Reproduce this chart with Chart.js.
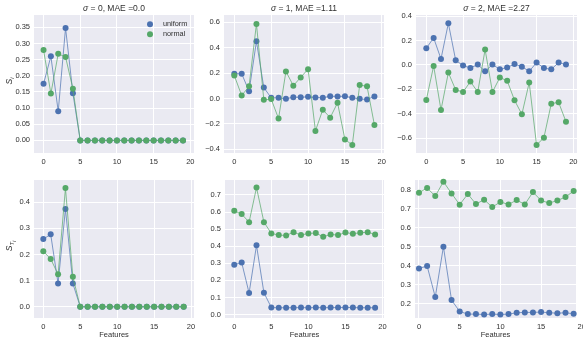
<!DOCTYPE html>
<html><head><meta charset="utf-8">
<script src="https://cdn.jsdelivr.net/npm/chart.js@4/dist/chart.umd.min.js"></script>
<style>
html,body{margin:0;padding:0;background:#fff;}
#wrap{position:relative;width:583px;height:344px;overflow:hidden;}
canvas{position:absolute;left:0;top:0;}
</style></head><body><div id="wrap">
<canvas id="c0" width="583" height="344"></canvas>
<canvas id="c1" width="583" height="344"></canvas>
<canvas id="c2" width="583" height="344"></canvas>
<canvas id="c3" width="583" height="344"></canvas>
<canvas id="c4" width="583" height="344"></canvas>
<canvas id="c5" width="583" height="344"></canvas>
</div>
<script>
// ---------------- data ----------------
const features = [0,1,2,3,4,5,6,7,8,9,10,11,12,13,14,15,16,17,18,19];
const xTicks = [0,5,10,15,20];
const sigmas = ["0","1","2"];
const maes = ["0.0","1.11","2.27"];
const seriesNames = ["uniform","normal"];
const xLabel = "Features";

const siUniformS0 = [0.175,0.26,0.09,0.348,0.146,0,0,0,0,0,0,0,0,0,0,0,0,0,0,0];
const siNormalS0  = [0.28,0.145,0.268,0.258,0.16,0,0,0,0,0,0,0,0,0,0,0,0,0,0,0];
const siUniformS1 = [0.195,0.195,0.057,0.45,0.086,0.005,0.005,-0.003,0.01,0.01,0.013,0.008,0.005,0.018,0.016,0.018,0.005,-0.003,-0.008,0.016];
const siNormalS1  = [0.18,0.023,0.096,0.587,-0.01,-0.005,-0.158,0.213,0.101,0.166,0.231,-0.255,-0.088,-0.151,-0.034,-0.322,-0.366,0.106,0.096,-0.208];
const siUniformS2 = [0.137,0.222,0.049,0.342,0.038,-0.005,-0.025,0.003,-0.052,0.003,-0.036,-0.022,0.008,-0.014,-0.052,0.019,-0.025,-0.036,0.019,0.003];
const siNormalS2  = [-0.288,-0.008,-0.37,-0.063,-0.205,-0.222,-0.137,-0.222,0.126,-0.222,-0.104,-0.129,-0.29,-0.405,-0.145,-0.658,-0.597,-0.318,-0.307,-0.466];

const stUniformS0 = [0.259,0.277,0.089,0.374,0.089,0,0,0,0,0,0,0,0,0,0,0,0,0,0,0];
const stNormalS0  = [0.212,0.183,0.124,0.454,0.115,0,0,0,0,0,0,0,0,0,0,0,0,0,0,0];
const stUniformS1 = [0.292,0.305,0.126,0.405,0.128,0.041,0.04,0.04,0.04,0.041,0.04,0.041,0.04,0.041,0.041,0.042,0.041,0.04,0.04,0.04];
const stNormalS1  = [0.607,0.588,0.541,0.743,0.541,0.475,0.465,0.463,0.482,0.465,0.475,0.477,0.455,0.469,0.465,0.48,0.473,0.479,0.482,0.469];
const stUniformS2 = [0.386,0.399,0.235,0.501,0.219,0.159,0.145,0.145,0.143,0.145,0.143,0.145,0.152,0.154,0.154,0.156,0.152,0.15,0.152,0.147];
const stNormalS2  = [0.786,0.811,0.768,0.844,0.782,0.723,0.779,0.726,0.749,0.71,0.737,0.724,0.747,0.724,0.789,0.745,0.731,0.745,0.763,0.795];

const yTicksSiS0 = [0,0.05,0.1,0.15,0.2,0.25,0.3,0.35];
const yTicksSiS1 = [-0.4,-0.2,0,0.2,0.4,0.6];
const yTicksSiS2 = [-0.6,-0.4,-0.2,0,0.2,0.4];
const yTicksStS0 = [0,0.1,0.2,0.3,0.4];
const yTicksStS1 = [0,0.1,0.2,0.3,0.4,0.5,0.6,0.7];
const yTicksStS2 = [0.2,0.3,0.4,0.5,0.6,0.7,0.8];

// ---------------- style / layout ----------------
const W = 583, H = 344;
const BLUE = '#4C72B0', GREEN = '#55A868';
const BLUE_LINE = 'rgba(76,114,176,0.7)', GREEN_LINE = 'rgba(85,168,104,0.7)';
const BG = '#EAEAF2', TXT = '#303030';
const FONT = "'Liberation Sans', Arial, sans-serif";
const YW = 30, XH = 14;
Chart.defaults.font.family = FONT;

const panels = [
  {id:'c0', area:[34,15,194,153], xr:[-1.3,20.5], yr:[-0.039,0.388], yt:yTicksSiS0, dec:2, u:siUniformS0, n:siNormalS0, title:0, ylab:'si', legend:true},
  {id:'c1', area:[224,15,384,153], xr:[-1.4,20.3], yr:[-0.429,0.657], yt:yTicksSiS1, dec:1, u:siUniformS1, n:siNormalS1, title:1},
  {id:'c2', area:[416,15,577,153], xr:[-1.4,20.5], yr:[-0.723,0.41], yt:yTicksSiS2, dec:1, u:siUniformS2, n:siNormalS2, title:2},
  {id:'c3', area:[34,180,194,318], xr:[-1.26,20.4], yr:[-0.043,0.485], yt:yTicksStS0, dec:1, u:stUniformS0, n:stNormalS0, ylab:'st', xlab:true},
  {id:'c4', area:[225,180,384,318], xr:[-1.25,20.2], yr:[-0.02,0.7875], yt:yTicksStS1, dec:1, u:stUniformS1, n:stNormalS1, xlab:true},
  {id:'c5', area:[415,180,576,318], xr:[-0.49,19.29], yr:[0.1245,0.853], yt:yTicksStS2, dec:1, u:stUniformS2, n:stNormalS2, xlab:true}
];

function toXY(arr){ return features.map((x,i)=>({x:x, y:arr[i]})); }
function fmt(v, dec){ const s = Math.abs(v).toFixed(dec); return (v < -1e-9 ? '\u2212' : '') + s; }

function panelPlugin(p){
  return {
    id:'panel_'+p.id,
    beforeDraw(chart){
      const a = chart.chartArea, c = chart.ctx;
      c.save(); c.fillStyle = BG; c.fillRect(a.left, a.top, a.right-a.left, a.bottom-a.top); c.restore();
    },
    afterDraw(chart){
      const a = chart.chartArea, c = chart.ctx;
      const cx = (a.left + a.right)/2;
      c.save();
      c.fillStyle = TXT;
      if (p.title !== undefined){
        const f1 = "italic 8.5px " + FONT, f2 = "8.5px " + FONT;
        const s1 = "\u03C3", s2 = " = " + sigmas[p.title] + ", MAE =" + maes[p.title];
        c.font = f1; const w1 = c.measureText(s1).width;
        c.font = f2; const w2 = c.measureText(s2).width;
        const x0 = cx - (w1 + w2)/2;
        c.textBaseline = 'alphabetic'; c.textAlign = 'left';
        c.font = f1; c.fillText(s1, x0, 10.5);
        c.font = f2; c.fillText(s2, x0 + w1, 10.5);
      }
      if (p.xlab){
        c.font = "7.5px " + FONT; c.textAlign = 'center'; c.textBaseline = 'middle';
        c.fillText(xLabel, cx, 334.5);
      }
      if (p.ylab){
        const cy = (a.top + a.bottom)/2 - 3;
        c.translate(12, cy); c.rotate(-Math.PI/2);
        c.textAlign = 'left'; c.textBaseline = 'alphabetic';
        c.font = "italic 8.5px " + FONT;
        const wS = c.measureText('S').width;
        if (p.ylab === 'si'){
          c.font = "italic 6px " + FONT; const wi = c.measureText('i').width;
          const tot = wS + wi; const x0 = -tot/2;
          c.font = "italic 8.5px " + FONT; c.fillText('S', x0, 0);
          c.font = "italic 6px " + FONT; c.fillText('i', x0 + wS, 2);
        } else {
          c.font = "italic 6px " + FONT; const wT = c.measureText('T').width;
          c.font = "italic 4.5px " + FONT; const wi = c.measureText('i').width;
          const tot = wS + wT + wi; const x0 = -tot/2;
          c.font = "italic 8.5px " + FONT; c.fillText('S', x0, 0);
          c.font = "italic 6px " + FONT; c.fillText('T', x0 + wS, 2);
          c.font = "italic 4.5px " + FONT; c.fillText('i', x0 + wS + wT, 3.5);
        }
        c.setTransform(1,0,0,1,0,0);
      }
      if (p.legend){
        const cols = [BLUE, GREEN];
        c.font = "7.3px " + FONT; c.textAlign = 'left'; c.textBaseline = 'middle';
        for (let k=0;k<2;k++){
          const y = 24.3 + k*10;
          c.fillStyle = cols[k]; c.beginPath(); c.arc(150, y, 3, 0, Math.PI*2); c.fill();
          c.fillStyle = TXT; c.fillText(seriesNames[k], 163, y);
        }
      }
      c.restore();
    }
  };
}

function makeChart(p){
  const [l,t,r,b] = p.area;
  const tickFont = {family:FONT, size:7.5};
  return new Chart(document.getElementById(p.id), {
    type:'line',
    data:{datasets:[
      {label:seriesNames[0], data:toXY(p.u), borderColor:BLUE_LINE, backgroundColor:BLUE, pointBackgroundColor:BLUE, pointBorderColor:BLUE, order:1, clip:false},
      {label:seriesNames[1], data:toXY(p.n), borderColor:GREEN_LINE, backgroundColor:GREEN, pointBackgroundColor:GREEN, pointBorderColor:GREEN, order:0, clip:false}
    ]},
    options:{
      responsive:false, animation:false, events:[],
      layout:{padding:{left:l-YW, top:t, right:W-r, bottom:H-b-XH}},
      elements:{line:{borderWidth:1, tension:0}, point:{radius:3, borderWidth:0, hoverRadius:3}},
      plugins:{legend:{display:false}, tooltip:{enabled:false}, title:{display:false}},
      scales:{
        x:{type:'linear', min:p.xr[0], max:p.xr[1],
          afterBuildTicks(s){ s.ticks = xTicks.map(v=>({value:v})); },
          afterFit(s){ s.height = XH; s.paddingLeft = 0; s.paddingRight = 0; },
          grid:{color:'#ffffff', lineWidth:1, drawTicks:false}, border:{display:false},
          ticks:{padding:4, color:TXT, font:tickFont, autoSkip:false, maxRotation:0, minRotation:0, callback:v=>String(v)}},
        y:{type:'linear', min:p.yr[0], max:p.yr[1],
          afterBuildTicks(s){ s.ticks = p.yt.map(v=>({value:v})); },
          afterFit(s){ s.width = YW; s.paddingTop = 0; s.paddingBottom = 0; },
          grid:{color:'#ffffff', lineWidth:1, drawTicks:false}, border:{display:false},
          ticks:{padding:4, color:TXT, font:tickFont, autoSkip:false, callback:v=>fmt(v, p.dec)}}
      }
    },
    plugins:[panelPlugin(p)]
  });
}
panels.forEach(makeChart);
</script>
</body></html>
